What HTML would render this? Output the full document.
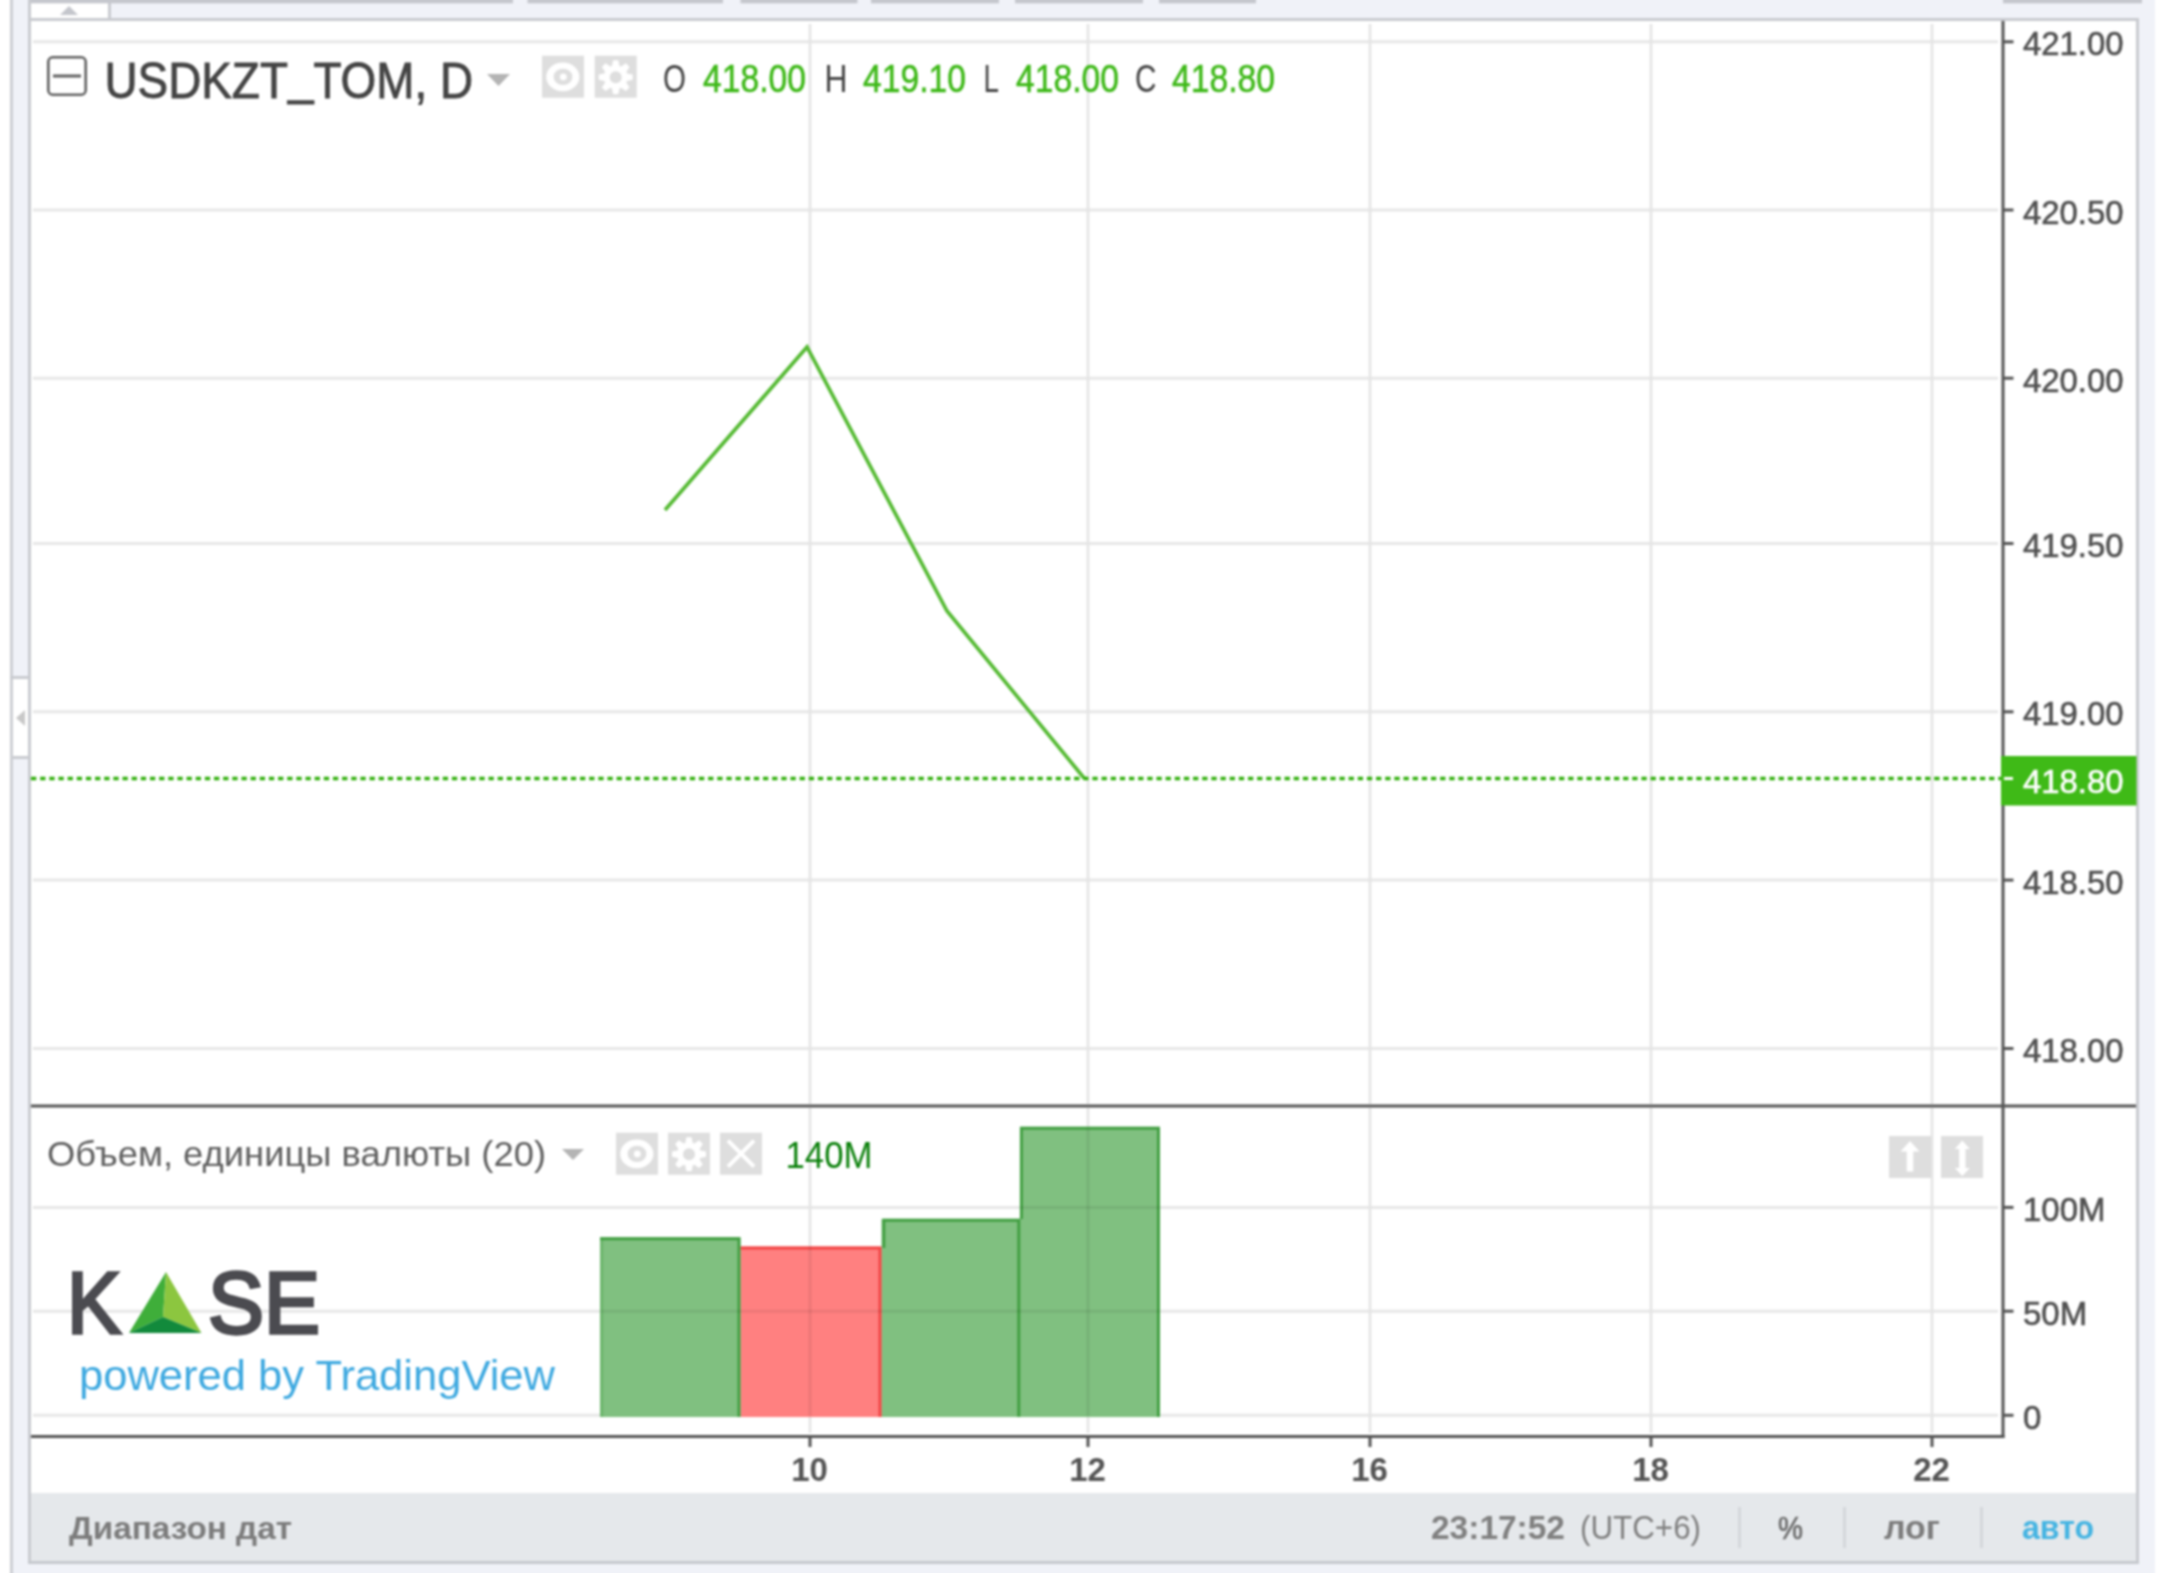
<!DOCTYPE html>
<html lang="ru">
<head>
<meta charset="utf-8">
<title>USDKZT_TOM, D</title>
<style>
html,body{margin:0;padding:0;background:#fff;}
body{width:2160px;height:1573px;overflow:hidden;position:relative;font-family:"Liberation Sans",sans-serif;}
svg{position:absolute;left:0;top:0;display:block;}
#all{filter:blur(0.8px);}
text{font-family:"Liberation Sans",sans-serif;}
.ax{font-size:33px;fill:#505050;stroke:#505050;stroke-width:0.6px;}
.tm{font-size:33px;font-weight:bold;fill:#555;}
.lg{font-size:39px;fill:#444;}
.lv{font-size:39px;fill:#3cb816;stroke:#3cb816;stroke-width:0.5px;}
</style>
</head>
<body>
<svg width="2160" height="1573" viewBox="0 0 2160 1573">
<g id="all">
<g id="frame">
<rect x="-5" y="-5" width="2170" height="1583" fill="#fff"/>
<rect x="10" y="-5" width="2145" height="1583" fill="#f0f2f8"/>
<rect x="10" y="-5" width="3" height="1583" fill="#cdcfd4"/>
<rect x="31" y="21" width="2106" height="1472" fill="#fff"/>
<rect x="28" y="-5" width="3" height="1569" fill="#c9cbd0"/>
<rect x="2136" y="19" width="3" height="1545" fill="#c9cbd0"/>
<rect x="28" y="18" width="2111" height="3" fill="#c9cbd0"/>
<rect x="31" y="1493" width="2105" height="68" fill="#e5e8eb"/>
<rect x="28" y="1561" width="2111" height="3" fill="#c6c9ce"/>
</g>
<g id="topstrip">
<rect x="31" y="3" width="77" height="15" fill="#fff"/>
<rect x="108" y="3" width="3" height="15" fill="#c9cbd0"/>
<path d="M60 15 L69 6 L78 15 Z" fill="#c4c6cc"/>
<rect x="31" y="-2" width="482" height="5.300" fill="#c5c7cd"/>
<rect x="527.5" y="-2" width="195.5" height="5.300" fill="#c5c7cd"/>
<rect x="740.5" y="-2" width="117.0" height="5.300" fill="#c5c7cd"/>
<rect x="871" y="-2" width="128" height="5.300" fill="#c5c7cd"/>
<rect x="1015" y="-2" width="128" height="5.300" fill="#c5c7cd"/>
<rect x="1159" y="-2" width="97" height="5.300" fill="#c5c7cd"/>
<rect x="2003" y="-2" width="139" height="5.300" fill="#c5c7cd"/>
<!-- left handle -->
<rect x="13" y="678" width="15" height="80" fill="#fff"/>
<rect x="10" y="676" width="21" height="3" fill="#c9cbd0"/>
<rect x="13" y="756" width="15" height="3" fill="#c9cbd0"/>
<path d="M25 710 L16 718 L25 726 Z" fill="#c8c8c8"/>
</g>
<g id="grid" stroke="#e7e7e7" fill="none">
<g stroke-width="3">
<line x1="33" y1="41.8" x2="1998" y2="41.8"/>
<line x1="33" y1="210" x2="1998" y2="210"/>
<line x1="33" y1="378.2" x2="1998" y2="378.2"/>
<line x1="33" y1="543.5" x2="1998" y2="543.5"/>
<line x1="33" y1="711.8" x2="1998" y2="711.8"/>
<line x1="33" y1="880.1" x2="1998" y2="880.1"/>
<line x1="33" y1="1048.5" x2="1998" y2="1048.5"/>
<line x1="33" y1="1207.4" x2="1998" y2="1207.4"/>
<line x1="33" y1="1311.2" x2="1998" y2="1311.2"/>
<line x1="33" y1="1415.3" x2="1998" y2="1415.3"/>
</g>
<g stroke-width="2.6" stroke="#e4e4e4">
<line x1="810" y1="24" x2="810" y2="1104"/>
<line x1="810" y1="1108" x2="810" y2="1433"/>
<line x1="1088" y1="24" x2="1088" y2="1104"/>
<line x1="1088" y1="1108" x2="1088" y2="1433"/>
<line x1="1370" y1="24" x2="1370" y2="1104"/>
<line x1="1370" y1="1108" x2="1370" y2="1433"/>
<line x1="1651" y1="24" x2="1651" y2="1104"/>
<line x1="1651" y1="1108" x2="1651" y2="1433"/>
<line x1="1932" y1="24" x2="1932" y2="1104"/>
<line x1="1932" y1="1108" x2="1932" y2="1433"/>
</g>
</g>
<g id="series" fill="none">
<polyline points="665,510 807,347 947,611 1084,778" stroke="#55ba33" stroke-width="3.7" stroke-linejoin="miter"/>
<line x1="31" y1="778.5" x2="2001" y2="778.5" stroke="#2fae0a" stroke-width="3.4" stroke-dasharray="5.3 3.85"/>
</g>
<g id="axes">
<rect x="2001.5" y="21" width="3" height="1417" fill="#555"/>
<rect x="31" y="1104.5" width="2105" height="3" fill="#555"/>
<rect x="31" y="1435" width="1973.500" height="3" fill="#555"/>
<rect x="2004" y="40.3" width="9.500" height="3" fill="#555"/>
<text class="ax" x="2023" y="55.3" textLength="100.500" lengthAdjust="spacingAndGlyphs">421.00</text>
<rect x="2004" y="208.5" width="9.500" height="3" fill="#555"/>
<text class="ax" x="2023" y="223.5" textLength="100.500" lengthAdjust="spacingAndGlyphs">420.50</text>
<rect x="2004" y="376.7" width="9.500" height="3" fill="#555"/>
<text class="ax" x="2023" y="391.7" textLength="100.500" lengthAdjust="spacingAndGlyphs">420.00</text>
<rect x="2004" y="542.0" width="9.500" height="3" fill="#555"/>
<text class="ax" x="2023" y="557.0" textLength="100.500" lengthAdjust="spacingAndGlyphs">419.50</text>
<rect x="2004" y="710.3" width="9.500" height="3" fill="#555"/>
<text class="ax" x="2023" y="725.3" textLength="100.500" lengthAdjust="spacingAndGlyphs">419.00</text>
<rect x="2004" y="878.6" width="9.500" height="3" fill="#555"/>
<text class="ax" x="2023" y="893.6" textLength="100.500" lengthAdjust="spacingAndGlyphs">418.50</text>
<rect x="2004" y="1047.0" width="9.500" height="3" fill="#555"/>
<text class="ax" x="2023" y="1062.0" textLength="100.500" lengthAdjust="spacingAndGlyphs">418.00</text>
<rect x="2004" y="1205.9" width="9.500" height="3" fill="#555"/>
<text class="ax" x="2023" y="1220.9">100M</text>
<rect x="2004" y="1309.7" width="9.500" height="3" fill="#555"/>
<text class="ax" x="2023" y="1324.7">50M</text>
<rect x="2004" y="1413.8" width="9.500" height="3" fill="#555"/>
<text class="ax" x="2023" y="1428.8">0</text>
<rect x="2001" y="756" width="135.500" height="49.500" fill="#3fba17"/>
<rect x="2004" y="777" width="9" height="3" fill="#fff"/>
<text x="2023" y="792.500" font-size="33" fill="#fff" stroke="#fff" stroke-width="0.6" textLength="100.500" lengthAdjust="spacingAndGlyphs">418.80</text>
<rect x="808.5" y="1437" width="3" height="10" fill="#555"/>
<text class="tm" x="809.5" y="1481" text-anchor="middle">10</text>
<rect x="1086.5" y="1437" width="3" height="10" fill="#555"/>
<text class="tm" x="1087.5" y="1481" text-anchor="middle">12</text>
<rect x="1368.5" y="1437" width="3" height="10" fill="#555"/>
<text class="tm" x="1369.5" y="1481" text-anchor="middle">16</text>
<rect x="1649.5" y="1437" width="3" height="10" fill="#555"/>
<text class="tm" x="1650.5" y="1481" text-anchor="middle">18</text>
<rect x="1930.5" y="1437" width="3" height="10" fill="#555"/>
<text class="tm" x="1931.5" y="1481" text-anchor="middle">22</text>
</g>
<g id="legend">
<rect x="48.3" y="57.3" width="37.4" height="37.4" rx="4.5" fill="#fff" stroke="#606060" stroke-width="2.6"/>
<rect x="53" y="74.5" width="28" height="3" fill="#606060"/>
<text x="104.5" y="98" font-size="50" fill="#444" stroke="#444" stroke-width="0.9" textLength="368.5" lengthAdjust="spacingAndGlyphs">USDKZT<tspan dy="-4">_</tspan><tspan dy="4">TOM, D</tspan></text>
<path d="M487 74 L510 74 L498.5 86 Z" fill="#b4b4b4"/>
<g id="eye1" transform="translate(542,55.7)">
<rect width="42" height="42" fill="#dedede"/>
<ellipse cx="20.800" cy="21.200" rx="16.600" ry="14.300" fill="#fff"/>
<ellipse cx="21" cy="21.200" rx="9.400" ry="8.200" fill="#dedede"/>
<circle cx="21.300" cy="21.200" r="3.400" fill="#fff"/>
</g>
<g id="gear1" transform="translate(594.7,55.7)">
<rect width="42" height="42" fill="#dedede"/>
<g transform="translate(21,21.500)" fill="#fff">
<circle r="11.800"/>
<path d="M-4 -10 L-2.600 -17 L2.600 -17 L4 -10 L4 10 L2.600 17 L-2.600 17 L-4 10 Z"/>
<path d="M-4 -10 L-2.600 -17 L2.600 -17 L4 -10 L4 10 L2.600 17 L-2.600 17 L-4 10 Z" transform="rotate(45)"/>
<path d="M-4 -10 L-2.600 -17 L2.600 -17 L4 -10 L4 10 L2.600 17 L-2.600 17 L-4 10 Z" transform="rotate(90)"/>
<path d="M-4 -10 L-2.600 -17 L2.600 -17 L4 -10 L4 10 L2.600 17 L-2.600 17 L-4 10 Z" transform="rotate(135)"/>
<circle r="6" fill="#dedede"/>
</g>
</g>
<text class="lg" x="663" y="92" textLength="23" lengthAdjust="spacingAndGlyphs">O</text>
<text class="lv" x="703" y="92" textLength="103" lengthAdjust="spacingAndGlyphs">418.00</text>
<text class="lg" x="824.5" y="92" textLength="23" lengthAdjust="spacingAndGlyphs">H</text>
<text class="lv" x="863" y="92" textLength="103" lengthAdjust="spacingAndGlyphs">419.10</text>
<text class="lg" x="983.5" y="92" textLength="15.500" lengthAdjust="spacingAndGlyphs">L</text>
<text class="lv" x="1016" y="92" textLength="103" lengthAdjust="spacingAndGlyphs">418.00</text>
<text class="lg" x="1135" y="92" textLength="21.500" lengthAdjust="spacingAndGlyphs">C</text>
<text class="lv" x="1172" y="92" textLength="103" lengthAdjust="spacingAndGlyphs">418.80</text>
</g>
<g id="volume">
<g id="bars">
<rect x="600" y="1237.2" width="140.5" height="179.8" fill="#80c080"/>
<rect x="740.5" y="1246.5" width="141" height="170.5" fill="#ff8080"/>
<rect x="881.5" y="1218.8" width="139" height="198.2" fill="#80c080"/>
<rect x="1020" y="1126.8" width="140" height="290.2" fill="#80c080"/>
<g fill="none" stroke-width="3" stroke="#429f42">
<path d="M1021.4 1219 L1021.4 1128.3 L1158.500 1128.3 L1158.500 1417"/>
<path d="M883.8 1248 L883.8 1220.3 L1018.800 1220.3 L1018.800 1417"/>
<path d="M740.500 1248 L880 1248 L880 1417" stroke="#f24545"/>
<path d="M600 1238.7 L739 1238.7 L739 1417"/>
<path d="M601.800 1240 L601.800 1417" stroke-opacity="0.3"/>
</g>
</g>
<g stroke="#000" stroke-opacity="0.07" stroke-width="3">
<line x1="601" y1="1311.2" x2="1159" y2="1311.2"/>
<line x1="1021" y1="1207.4" x2="1159" y2="1207.4"/>
<line x1="810" y1="1247" x2="810" y2="1416"/>
<line x1="1088" y1="1128" x2="1088" y2="1416"/>
</g>
<text x="47" y="1166" font-size="35" fill="#606060" textLength="499" lengthAdjust="spacingAndGlyphs">Объем, единицы валюты (20)</text>
<path d="M562 1149 L584 1149 L573 1160 Z" fill="#b4b4b4"/>
<g id="eye2" transform="translate(616,1132.7)">
<rect width="42" height="42" fill="#dedede"/>
<ellipse cx="20.800" cy="21.200" rx="16.600" ry="14.300" fill="#fff"/>
<ellipse cx="21" cy="21.200" rx="9.400" ry="8.200" fill="#dedede"/>
<circle cx="21.300" cy="21.200" r="3.400" fill="#fff"/>
</g>
<g id="gear2" transform="translate(668,1132.7)">
<rect width="42" height="42" fill="#dedede"/>
<g transform="translate(21,21.500)" fill="#fff">
<circle r="11.800"/>
<path d="M-4 -10 L-2.600 -17 L2.600 -17 L4 -10 L4 10 L2.600 17 L-2.600 17 L-4 10 Z"/>
<path d="M-4 -10 L-2.600 -17 L2.600 -17 L4 -10 L4 10 L2.600 17 L-2.600 17 L-4 10 Z" transform="rotate(45)"/>
<path d="M-4 -10 L-2.600 -17 L2.600 -17 L4 -10 L4 10 L2.600 17 L-2.600 17 L-4 10 Z" transform="rotate(90)"/>
<path d="M-4 -10 L-2.600 -17 L2.600 -17 L4 -10 L4 10 L2.600 17 L-2.600 17 L-4 10 Z" transform="rotate(135)"/>
<circle r="6" fill="#dedede"/>
</g>
</g>
<g id="close2" transform="translate(720,1132.7)">
<rect width="42" height="42" fill="#dedede"/>
<path d="M8 8 L34 34 M34 8 L8 34" stroke="#fff" stroke-width="4" fill="none"/>
</g>
<text x="785.5" y="1168" font-size="36" fill="#0a800a" textLength="87" lengthAdjust="spacingAndGlyphs">140M</text>
<g id="up2" transform="translate(1889,1136)">
<rect width="42" height="42" fill="#dedede"/>
<path d="M21 5 L30.500 15.500 L24.300 15.500 L24.300 35.500 L17.700 35.500 L17.700 15.500 L11.500 15.500 Z" fill="#fff"/>
</g>
<g id="updown2" transform="translate(1941,1136)">
<rect width="42" height="42" fill="#dedede"/>
<path d="M21.300 4.500 L28.800 13 L24.500 13 L24.500 32 L28.800 32 L21.300 40 L13.800 32 L18.100 32 L18.100 13 L13.800 13 Z" fill="#fff"/>
</g>
</g>
<g id="logo">
<text x="67" y="1333" font-size="87" fill="#4b4b50" stroke="#4b4b50" stroke-width="3.4" textLength="54" lengthAdjust="spacingAndGlyphs">K</text>
<path d="M166 1272 L129 1333 L163 1317 Z" fill="#3fae3a"/>
<path d="M166 1272 L201.500 1333 L163 1317 Z" fill="#8cc63f"/>
<path d="M129 1333 L163 1317 L201.500 1333 Z" fill="#128a3c"/>
<text x="208" y="1333" font-size="87" fill="#4b4b50" stroke="#4b4b50" stroke-width="3.4" textLength="112" lengthAdjust="spacingAndGlyphs">SE</text>
<text x="79" y="1390" font-size="42" fill="#3fa9e0" textLength="476" lengthAdjust="spacingAndGlyphs">powered by TradingView</text>
</g>
<g id="bottom">
<text x="69" y="1539" font-size="32" font-weight="bold" fill="#7c7c7c" textLength="223" lengthAdjust="spacingAndGlyphs">Диапазон дат</text>
<text x="1431" y="1539" font-size="33" font-weight="bold" fill="#808080" textLength="134" lengthAdjust="spacingAndGlyphs">23:17:52</text>
<text x="1580" y="1539" font-size="33" fill="#808080" textLength="121" lengthAdjust="spacingAndGlyphs">(UTC+6)</text>
<rect x="1738" y="1507" width="3" height="41" fill="#d4d7db"/>
<rect x="1843" y="1507" width="3" height="41" fill="#d4d7db"/>
<rect x="1980" y="1507" width="3" height="41" fill="#d4d7db"/>
<text x="1778" y="1539" font-size="31" fill="#6c6c6c" stroke="#6c6c6c" stroke-width="0.7" textLength="25" lengthAdjust="spacingAndGlyphs">%</text>
<text x="1884" y="1539" font-size="33" font-weight="bold" fill="#7c7c7c" textLength="56" lengthAdjust="spacingAndGlyphs">лог</text>
<text x="2022" y="1539" font-size="33" font-weight="bold" fill="#45b4e2" textLength="72" lengthAdjust="spacingAndGlyphs">авто</text>
</g>
</g>
</svg>
</body>
</html>
